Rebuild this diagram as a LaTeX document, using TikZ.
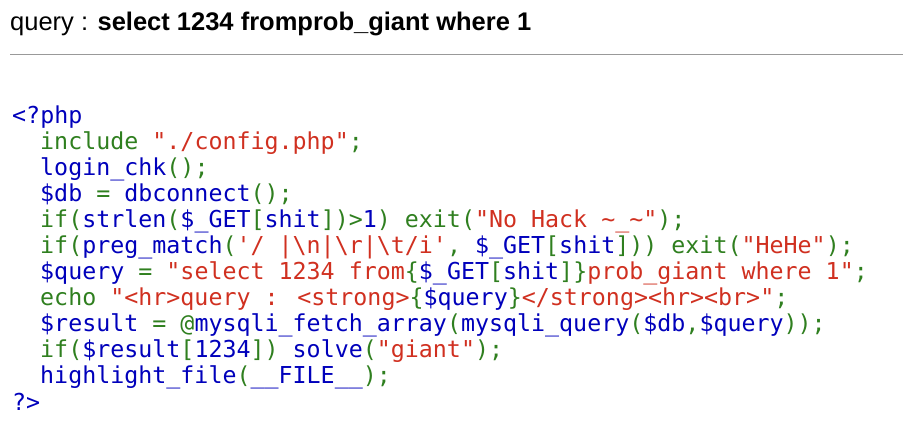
\documentclass[tikz,border=0pt]{standalone}
\usepackage{fontspec}
\newfontfamily\code{DejaVu Sans Mono}
\newfontfamily\hdr{Liberation Sans}
\definecolor{pb}{HTML}{0000BB}
\definecolor{pg}{HTML}{2F7F1F}
\definecolor{pr}{HTML}{D03020}
\newcommand{\B}[1]{\textcolor{pb}{#1}}
\newcommand{\G}[1]{\textcolor{pg}{#1}}
\newcommand{\R}[1]{\textcolor{pr}{#1}}
\begin{document}
\begin{tikzpicture}[x=1pt,y=-1pt,
  ln/.style={anchor=base west,inner sep=0pt,font=\code\fontsize{23.3}{26}\selectfont}]
\useasboundingbox (0,0) rectangle (903,446);
\node[anchor=base west,inner sep=0pt,font=\hdr\fontsize{25.5}{28}\selectfont] (h) at (10,31) {query : \textbf{select 1234 fromprob\_giant where 1}};
\draw[color=black!40,line width=1pt] (10,55) -- (903,55);
\node[ln] (l1) at (12,124) {\B{<?php}};
\node[ln] (l2) at (40,150) {\G{include }\R{"./config.php"}\G{;}};
\node[ln] (l3) at (40,176) {\B{login\_chk}\G{();}};
\node[ln] (l4) at (40,202) {\B{\$db}\G{\ = }\B{dbconnect}\G{();}};
\node[ln] (l5) at (40,228) {\G{if(}\B{strlen}\G{(}\B{\$\_GET}\G{[}\B{shit}\G{])>}\B{1}\G{) exit(}\R{"No Hack \textasciitilde\_\textasciitilde"}\G{);}};
\node[ln] (l6) at (40,254) {\G{if(}\B{preg\_match}\G{(}\R{'/ |\textbackslash n|\textbackslash r|\textbackslash t/i'}\G{, }\B{\$\_GET}\G{[}\B{shit}\G{])) exit(}\R{"HeHe"}\G{);}};
\node[ln] (l7) at (40,280) {\B{\$query}\G{\ = }\R{"select 1234 from}\G{\{}\B{\$\_GET}\G{[}\B{shit}\G{]\}}\R{prob\_giant where 1"}\G{;}};
\node[ln] (l8) at (40,306) {\G{echo }\R{"<hr>query : <strong>}\G{\{}\B{\$query}\G{\}}\R{</strong><hr><br>"}\G{;}};
\node[ln] (l9) at (40,332) {\B{\$result}\G{\ = @}\B{mysqli\_fetch\_array}\G{(}\B{mysqli\_query}\G{(}\B{\$db}\G{,}\B{\$query}\G{));}};
\node[ln] (l10) at (40,358) {\G{if(}\B{\$result}\G{[}\B{1234}\G{]) }\B{solve}\G{(}\R{"giant"}\G{);}};
\node[ln] (l11) at (40,384) {\B{highlight\_file}\G{(}\B{\_\_FILE\_\_}\G{);}};
\node[ln] (l12) at (12,410) {\B{?>}};
\end{tikzpicture}
\end{document}
